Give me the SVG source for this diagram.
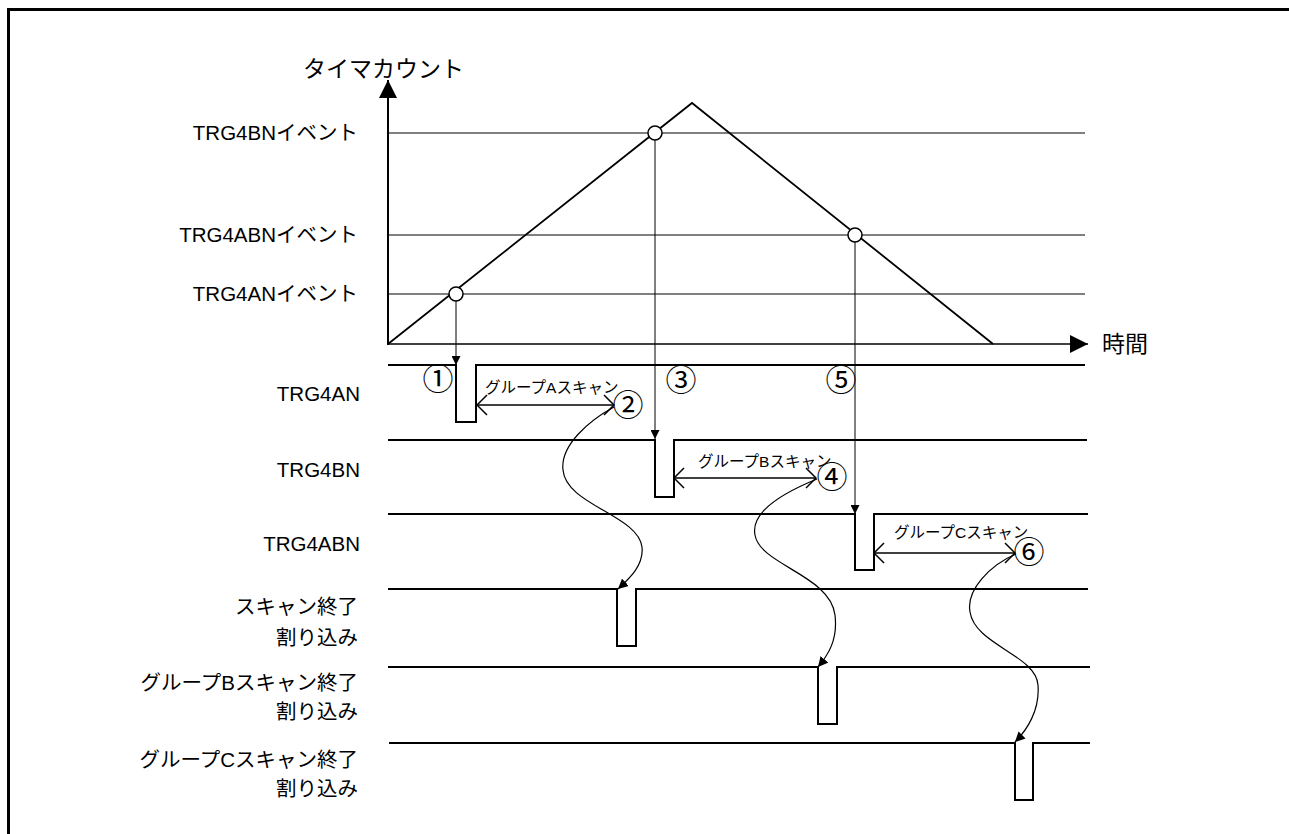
<svg xmlns="http://www.w3.org/2000/svg" width="1289" height="834" viewBox="0 0 1289 834">
<style>
text{font-family:"Liberation Sans","Noto Sans CJK JP",sans-serif;fill:#000}
.lbl{font-size:20.5px;text-anchor:end}
.ax{font-size:23px}
.num{font-size:31px;text-anchor:middle;font-family:"Noto Sans CJK JP",sans-serif}
.scan{font-size:15.5px}
.thin{stroke:#000;stroke-width:1;fill:none}
.wave{stroke:#000;stroke-width:2;fill:none}
.curve{stroke:#000;stroke-width:1.2;fill:none}
</style>
<defs>
<marker id="tri" viewBox="0 0 10 10" refX="10" refY="5" markerWidth="10" markerHeight="10" markerUnits="userSpaceOnUse" orient="auto"><path d="M0,0 L10,5 L0,10 Z" fill="#000"/></marker>
<marker id="triS" viewBox="0 0 10 10" refX="10" refY="5" markerWidth="13" markerHeight="9" markerUnits="userSpaceOnUse" orient="auto"><path d="M0,0 L10,5 L0,10 Z" fill="#000"/></marker>
<marker id="vee" viewBox="0 0 12 22" refX="11" refY="11" markerWidth="12" markerHeight="22" markerUnits="userSpaceOnUse" orient="auto-start-reverse"><path d="M1,1 L11,11 L1,21" fill="none" stroke="#000" stroke-width="1.5"/></marker>
<marker id="big" viewBox="0 0 10 10" refX="10" refY="5" markerWidth="26" markerHeight="18" markerUnits="userSpaceOnUse" orient="auto"><path d="M0,0 L10,5 L0,10 Z" fill="#000"/></marker>
</defs>
<rect x="8.5" y="9.5" width="1300" height="840" fill="none" stroke="#000" stroke-width="3"/>

<g id="axes">
<line x1="388" y1="345" x2="388" y2="80" stroke="#000" stroke-width="2" marker-end="url(#big)"/>
<line x1="388" y1="344" x2="1088" y2="344" stroke="#000" stroke-width="1.5" marker-end="url(#big)"/>
<text class="ax" x="303" y="77">タイマカウント</text>
<text class="ax" x="1102" y="352">時間</text>
</g>

<g id="thresholds">
<line class="thin" x1="388" y1="133" x2="1085" y2="133"/>
<line class="thin" x1="388" y1="235" x2="1085" y2="235"/>
<line class="thin" x1="388" y1="294" x2="1085" y2="294"/>
<text class="lbl" x="358" y="140">TRG4BNイベント</text>
<text class="lbl" x="358" y="242">TRG4ABNイベント</text>
<text class="lbl" x="358" y="301">TRG4ANイベント</text>
</g>

<g id="counter">
<polyline points="388,344 692,103 993,344" stroke="#000" stroke-width="1.8" fill="none"/>
</g>

<g id="connectors">
<line class="thin" x1="456" y1="301" x2="456" y2="365" marker-end="url(#triS)"/>
<line class="thin" x1="655" y1="140" x2="655" y2="439" marker-end="url(#triS)"/>
<line class="thin" x1="855" y1="242" x2="855" y2="514" marker-end="url(#triS)"/>
<line x1="477" y1="405" x2="614" y2="405" stroke="#000" stroke-width="1.5" marker-start="url(#vee)" marker-end="url(#vee)"/>
<line x1="674" y1="478" x2="816" y2="478" stroke="#000" stroke-width="1.5" marker-start="url(#vee)" marker-end="url(#vee)"/>
<line x1="874" y1="553" x2="1015" y2="553" stroke="#000" stroke-width="1.5" marker-start="url(#vee)" marker-end="url(#vee)"/>
<path class="curve" d="M614,407 C590,420 560,445 563,470 C566,505 638,515 642,547 C644,565 630,578 618,589" marker-end="url(#tri)"/>
<path class="curve" d="M817,479 C790,490 750,510 755,535 C760,565 830,575 835,615 C838,640 828,655 818,667" marker-end="url(#tri)"/>
<path class="curve" d="M1016,554 C990,565 966,590 970,612 C975,645 1036,655 1038,685 C1040,710 1027,730 1015,742" marker-end="url(#tri)"/>
</g>

<g id="events">
<circle cx="456" cy="294" r="7" fill="#fff" stroke="#000" stroke-width="1.5"/>
<circle cx="655" cy="133" r="7" fill="#fff" stroke="#000" stroke-width="1.5"/>
<circle cx="855" cy="235" r="7" fill="#fff" stroke="#000" stroke-width="1.5"/>
</g>

<g id="trg4an">
<polyline class="wave" points="388,365 456,365 456,422 476,422 476,365 1085,365"/>
<text class="lbl" x="360" y="401">TRG4AN</text>
<text class="num" x="438" y="390">①</text>
<text class="scan" x="485" y="393">グループAスキャン</text>
<text class="num" x="628" y="416">②</text>
<text class="num" x="681" y="391">③</text>
<text class="num" x="841" y="391">⑤</text>
</g>

<g id="trg4bn">
<polyline class="wave" points="388,440 655,440 655,497 674,497 674,440 1087,440"/>
<text class="lbl" x="360" y="477">TRG4BN</text>
<text class="scan" x="698" y="467">グループBスキャン</text>
<text class="num" x="832" y="488">④</text>
</g>

<g id="trg4abn">
<polyline class="wave" points="388,514 855,514 855,570 874,570 874,514 1088,514"/>
<text class="lbl" x="360" y="551">TRG4ABN</text>
<text class="scan" x="894" y="538">グループCスキャン</text>
<text class="num" x="1029" y="563">⑥</text>
</g>

<g id="scanend">
<polyline class="wave" points="388,589 617,589 617,646 636,646 636,589 1088,589"/>
<text class="lbl" x="358" y="614">スキャン終了</text>
<text class="lbl" x="358" y="645">割り込み</text>
</g>

<g id="groupb-end">
<polyline class="wave" points="388,667 818,667 818,724 837,724 837,667 1090,667"/>
<text class="lbl" x="358" y="690">グループBスキャン終了</text>
<text class="lbl" x="358" y="719">割り込み</text>
</g>

<g id="groupc-end">
<polyline class="wave" points="389,743 1015,743 1015,800 1033,800 1033,743 1090,743"/>
<text class="lbl" x="358" y="767">グループCスキャン終了</text>
<text class="lbl" x="358" y="796">割り込み</text>
</g>
</svg>
